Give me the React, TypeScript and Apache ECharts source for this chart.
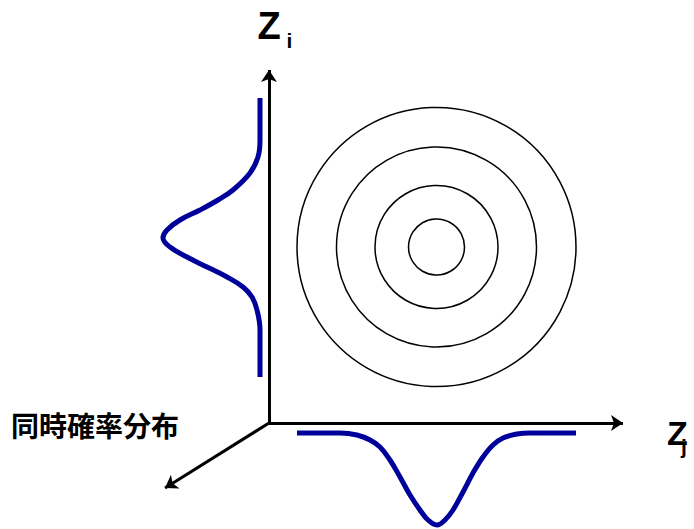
import React, { useEffect, useRef } from "react";
import * as echarts from "echarts";

// Diagram units: offset in px-like units from the axes origin (x right, y up)
const circleCenter = [167.5, 176];
const circleRadii = [28, 61.5, 100, 139.5];

// Marginal distribution along z_i (drawn left of vertical axis)
const marginalI: [number, number][] = [
  [-9, 325], [-9, 283], [-11, 266], [-19, 250], [-36, 233], [-51, 223],
  [-69, 213], [-89, 203], [-102, 193], [-106, 185], [-99, 176], [-82, 166],
  [-62, 156], [-42, 146], [-26, 136], [-17, 126], [-12, 113], [-9, 93], [-9, 46],
];

// Marginal distribution along z_j (drawn below horizontal axis)
const marginalJ: [number, number][] = [
  [28, -10], [71, -10], [88, -12], [101, -17], [111, -24], [121, -37],
  [131, -54], [141, -72], [151, -87], [159, -97], [168, -102], [176, -97],
  [184, -87], [194, -69], [204, -50], [214, -34], [224, -22], [234, -15],
  [248, -11], [261, -10], [307, -10],
];

// Axis arrows (origin → tip)
const axisEnds: [number, number][] = [
  [0, 353],
  [354, 0],
  [-104, -65],
];

const labelZ = "Z";
const subI = "i";
const subJ = "j";
const jointLabel = "同時確率分布";

export default function App() {
  const ref = useRef<HTMLDivElement>(null);
  useEffect(() => {
    if (!ref.current) return;
    const chart = echarts.init(ref.current, undefined, { renderer: "svg" });
    const latin = "'Liberation Sans', Arial, sans-serif";
    chart.setOption({
      animation: false,
      backgroundColor: "#ffffff",
      grid: { left: 0, right: 0, top: 0, bottom: 0, containLabel: false },
      xAxis: { type: "value", min: -269, max: 425, show: false },
      yAxis: { type: "value", min: -106, max: 423, show: false },
      series: [
        {
          type: "custom",
          coordinateSystem: "cartesian2d",
          data: circleRadii.map((r) => [circleCenter[0], circleCenter[1], r]),
          encode: { x: 0, y: 1 },
          renderItem: (params: any, api: any) => {
            const c = api.coord([api.value(0), api.value(1)]);
            const r = api.size([api.value(2), 0])[0];
            return {
              type: "circle",
              shape: { cx: c[0], cy: c[1], r },
              style: { fill: "none", stroke: "#000000", lineWidth: 1.5 },
            };
          },
          silent: true,
        },
        {
          type: "line",
          data: marginalI,
          smooth: 0.4,
          showSymbol: false,
          lineStyle: { color: "#00009a", width: 5 },
          silent: true,
        },
        {
          type: "line",
          data: marginalJ,
          smooth: 0.4,
          showSymbol: false,
          lineStyle: { color: "#00009a", width: 5 },
          silent: true,
        },
        {
          type: "lines",
          coordinateSystem: "cartesian2d",
          symbol: ["none", "arrow"],
          symbolSize: 12,
          lineStyle: { color: "#000000", width: 3, opacity: 1 },
          data: axisEnds.map((e) => ({ coords: [[0, 0], e] })),
          silent: true,
        },
      ],
      graphic: [
        {
          type: "text",
          x: 257.5,
          y: 26,
          style: { text: labelZ, fontSize: 38, fontWeight: "bold", fontFamily: latin, fill: "#000", align: "left", verticalAlign: "middle" },
        },
        {
          type: "text",
          x: 286.6,
          y: 40.7,
          style: { text: subI, fontSize: 21, fontWeight: "bold", fontFamily: latin, fill: "#000", align: "left", verticalAlign: "middle" },
        },
        {
          type: "text",
          x: 667,
          y: 432.5,
          style: { text: labelZ, fontSize: 34, fontWeight: "bold", fontFamily: latin, fill: "#000", align: "left", verticalAlign: "middle" },
        },
        {
          type: "text",
          x: 681,
          y: 446,
          style: { text: subJ, fontSize: 21, fontWeight: "bold", fontFamily: latin, fill: "#000", align: "left", verticalAlign: "middle" },
        },
        {
          type: "text",
          x: 11,
          y: 425,
          style: { text: jointLabel, fontSize: 28, fontWeight: "bold", fontFamily: "'Noto Sans CJK JP', sans-serif", fill: "#000", align: "left", verticalAlign: "middle" },
        },
      ],
    });
    return () => chart.dispose();
  }, []);
  return (
    <div
      ref={ref}
      style={{ position: "fixed", left: 0, top: 0, width: 694, height: 529 }}
    />
  );
}
